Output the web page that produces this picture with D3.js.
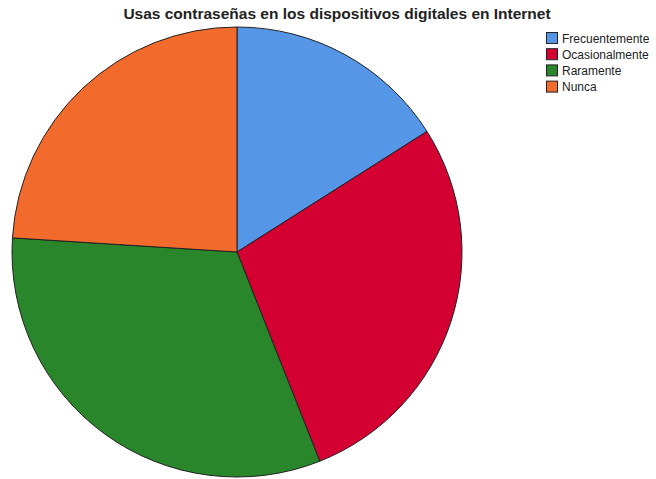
<!DOCTYPE html>
<html><head><meta charset="utf-8">
<script src="https://cdn.jsdelivr.net/npm/d3@7"></script>
<style>body{margin:0;background:#fff}svg{display:block}</style>
</head><body>
<script>
const categories = ["Frecuentemente","Ocasionalmente","Raramente","Nunca"];
const values = [4,7,8,6];
const colors = ["#5596E6","#D50032","#29862A","#F26B2D"];
const title = "Usas contraseñas en los dispositivos digitales en Internet";

const W=656,H=479;
const svg=d3.select("body").append("svg").attr("width",W).attr("height",H);
svg.append("text").attr("x",337).attr("y",19).attr("text-anchor","middle")
  .attr("font-family","Liberation Sans, Arial, sans-serif").attr("font-weight","bold")
  .attr("font-size",15.5).attr("fill","#222").text(title);

const cx=237,cy=252,r=225;
const pie=d3.pie().sort(null).value(d=>d)(values);
const arc=d3.arc().innerRadius(0).outerRadius(r);
const g=svg.append("g").attr("transform",`translate(${cx},${cy})`);
g.selectAll("path").data(pie).join("path").attr("d",arc)
  .attr("fill",(d,i)=>colors[i]).attr("stroke","#222").attr("stroke-width",1).attr("stroke-linejoin","round");

const lg=svg.append("g").attr("transform","translate(546,32)");
const row=lg.selectAll("g").data(categories).join("g").attr("transform",(d,i)=>`translate(0,${i*16.2})`);
row.append("rect").attr("x",0.5).attr("y",0.5).attr("width",11).attr("height",11)
  .attr("fill",(d,i)=>colors[i]).attr("stroke","#222").attr("stroke-width",1);
row.append("text").attr("x",16).attr("y",10.5).attr("font-family","Liberation Sans, Arial, sans-serif")
  .attr("font-size",12).attr("fill","#222").text(d=>d);
</script>
</body></html>
